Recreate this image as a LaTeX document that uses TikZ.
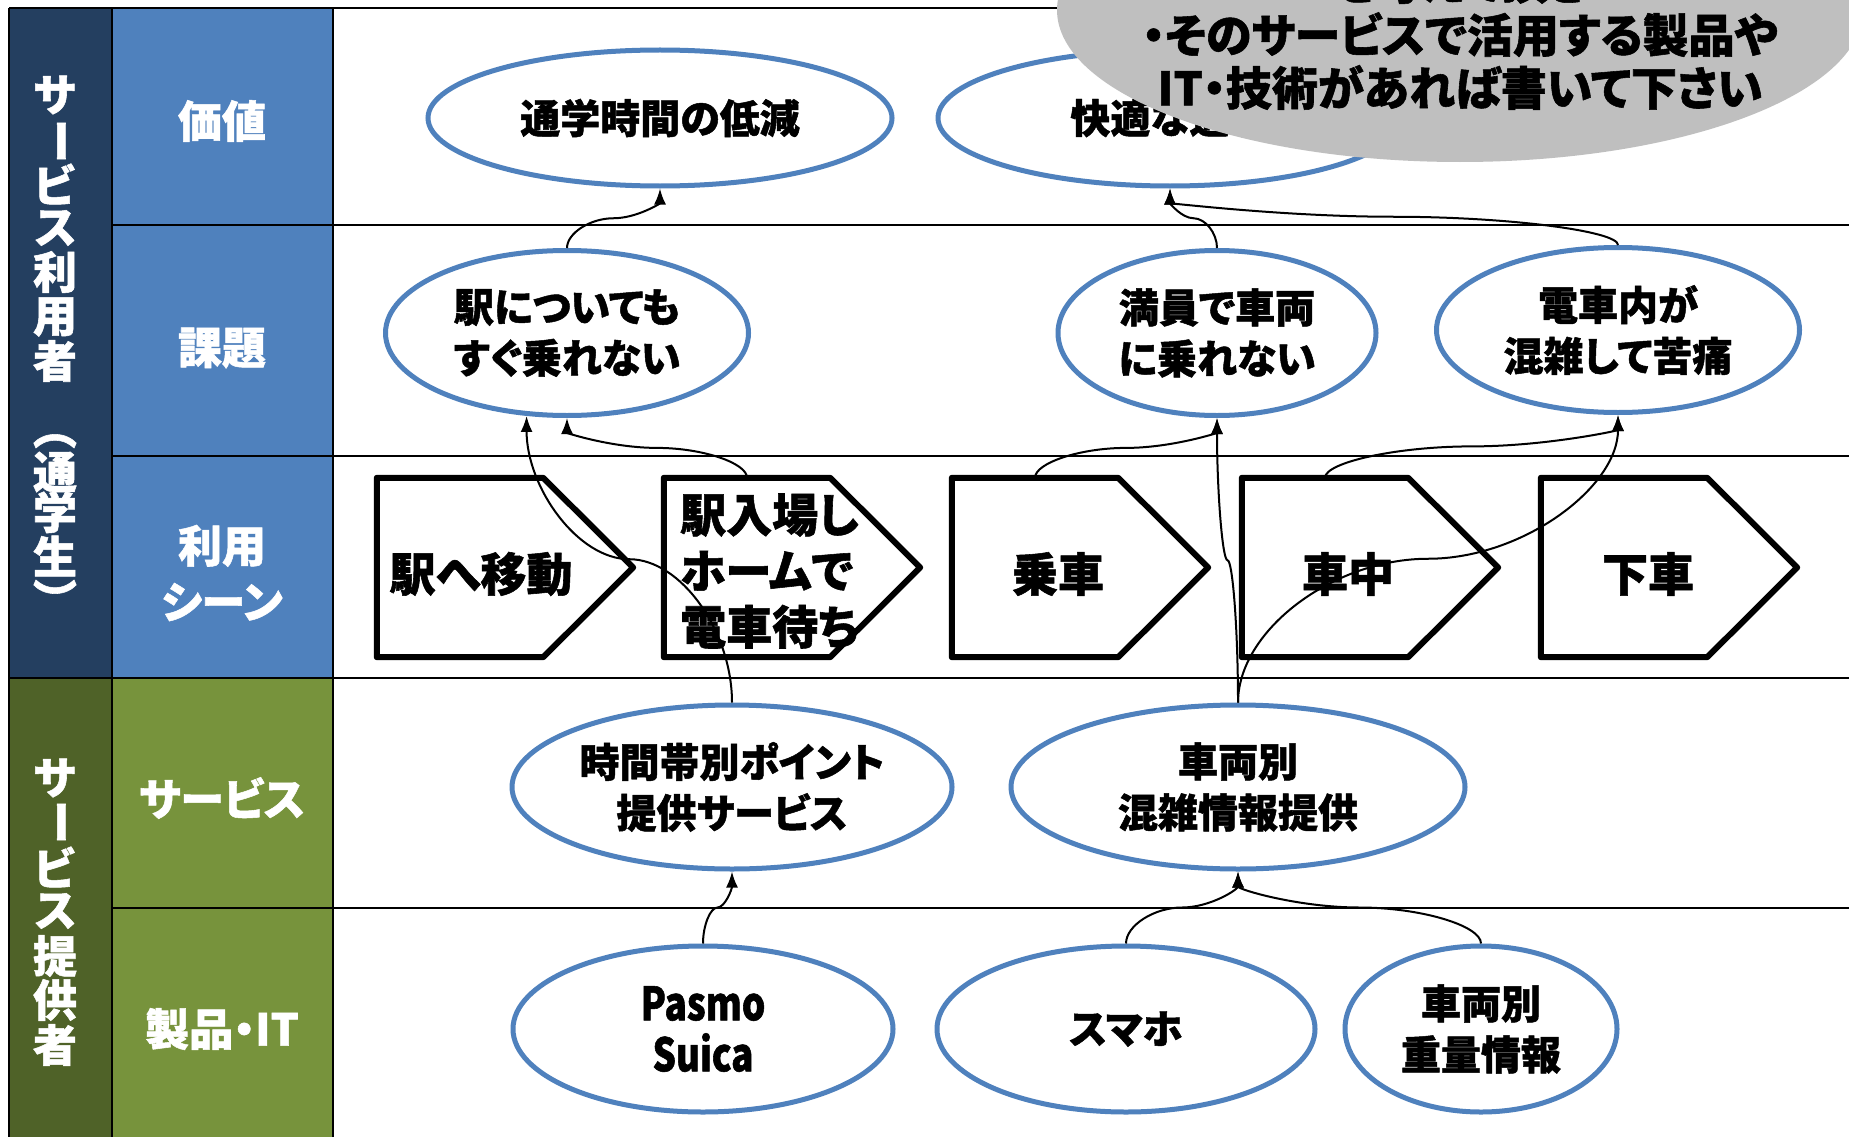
\documentclass[tikz,border=0pt]{standalone}
\usepackage{fontspec}
\setmainfont{Noto Sans CJK JP}[RawFeature=+palt, BoldFeatures={FakeBold=1.2}]
\newfontfamily\narrowfont{Noto Sans CJK JP}[FakeStretch=0.8, BoldFeatures={FakeBold=1.2}]
\newfontfamily\notefont{Noto Sans CJK JP}[RawFeature=+palt, BoldFeatures={FakeBold=1.2}]
\newfontfamily\vfont{Noto Sans CJK JP}[BoldFeatures={FakeBold=1.2}]
\usetikzlibrary{shapes.geometric,arrows.meta,calc}
\definecolor{navyc}{HTML}{243F60}
\definecolor{bluec}{HTML}{4F81BD}
\definecolor{dgreenc}{HTML}{4F6228}
\definecolor{greenc}{HTML}{77933C}
\definecolor{grayc}{HTML}{BFBFBF}
\tikzset{
  gridline/.style={line width=2.5pt, black},
  oval/.style={ellipse, draw=bluec, line width=5pt, fill=white, inner sep=0pt, align=center,
    font=\bfseries\fontsize{40}{51}\selectfont},
  pent/.style={line width=6pt, line join=round, fill=white},
  frame/.style={inner sep=0pt, minimum width=166pt, minimum height=179pt},
  scenetext/.style={font=\bfseries\fontsize{46}{56}\selectfont, inner sep=0pt, align=left},
  rowlabel/.style={text=white, font=\bfseries\fontsize{44}{56}\selectfont, align=center, inner sep=0pt},
  vchar/.style={text=white, font=\vfont\bfseries\fontsize{44}{44}\selectfont, inner sep=0pt},
  con/.style={line width=2pt, -{Latex[length=16pt,width=12pt]}},
}
\newcommand\curvecon[2]{%
  \coordinate (cm) at ($(#1)!0.5!(#2)$);
  \coordinate (c1) at ($(#1)!0.5!(cm)$);
  \coordinate (c2) at ($(cm)!0.5!(#2)$);
  \draw[con] (#1) .. controls (#1 |- c1) and (c1 |- cm) .. (cm) .. controls (c2 |- cm) and (#2 |- c2) .. (#2);}
\newcommand\pentagon[1]{%
  \draw[pent] (#1.north west) -- (#1.north east) -- ([xshift=90pt]#1.east) -- (#1.south east) -- (#1.south west) -- cycle;}
\begin{document}
\begin{tikzpicture}[x=1pt,y=-1pt]
\useasboundingbox (0,0) rectangle (1849,1137);
\clip (0,0) rectangle (1849,1137);
\fill[white] (0,0) rectangle (1849,1137);

% label columns
\fill[navyc] (9,8) rectangle (112,678);
\fill[dgreenc] (9,678) rectangle (112,1145);
\fill[bluec] (112,8) rectangle (333,678);
\fill[greenc] (112,678) rectangle (333,1145);

% grid
\draw[gridline] (9,8) -- (1849,8);
\draw[gridline] (112,225) -- (1849,225);
\draw[gridline] (112,456) -- (1849,456);
\draw[gridline] (9,678) -- (1849,678);
\draw[gridline] (112,908) -- (1849,908);
\draw[gridline] (9,8) -- (9,1145);
\draw[gridline] (112,8) -- (112,1145);
\draw[gridline] (333,8) -- (333,1145);

% row labels
\node[rowlabel] (l1) at (222,121) {価値};
\node[rowlabel] (l2) at (222,348) {課題};
\node[rowlabel] (l3) at (222,573) {利用\\シーン};
\node[rowlabel] (l4) at (222,798) {サービス};
\node[rowlabel] (l5) at (222,1029) {製品・IT};

% vertical labels
\node[vchar] (v1) at (55,95) {サ};
\node[vchar, rotate=-90] (v2) at (55,141) {ー};
\node[vchar] (v3) at (55,184) {ビ};
\node[vchar] (v4) at (55,228) {ス};
\node[vchar] (v5) at (55,272) {利};
\node[vchar] (v6) at (55,317) {用};
\node[vchar] (v7) at (55,361) {者};
\node[vchar, rotate=-90] (v8) at (55,428) {（};
\node[vchar] (v9) at (55,472) {通};
\node[vchar] (v10) at (55,512) {学};
\node[vchar] (v11) at (55,556) {生};
\node[vchar, rotate=-90] (v12) at (55,600) {）};
\node[vchar] (v13) at (55,778) {サ};
\node[vchar, rotate=-90] (v14) at (55,822) {ー};
\node[vchar] (v15) at (55,867) {ビ};
\node[vchar] (v16) at (55,911) {ス};
\node[vchar] (v17) at (55,956) {提};
\node[vchar] (v18) at (55,1000) {供};
\node[vchar] (v19) at (55,1045) {者};

% values
\node[oval, minimum width=464pt, minimum height=136pt] (e1) at (660,118) {通学時間の低減};
\node[oval, minimum width=464pt, minimum height=136pt] (e2) at (1170,118) {快適な通学};
% issues
\node[oval, minimum width=363pt, minimum height=165pt] (e3) at (567,333) {駅についても\\すぐ乗れない};
\node[oval, minimum width=318pt, minimum height=165pt] (e4) at (1217,333) {満員で車両\\に乗れない};
\node[oval, minimum width=363pt, minimum height=165pt] (e5) at (1618,330) {電車内が\\混雑して苦痛};
% services
\node[oval, minimum width=440pt, minimum height=164pt] (e6) at (732,787) {時間帯別ポイント\\提供サービス};
\node[oval, minimum width=454pt, minimum height=164pt] (e7) at (1238,787) {車両別\\混雑情報提供};
% products
\node[oval, minimum width=380pt, minimum height=166pt, font=\narrowfont\bfseries\fontsize{46}{51}\selectfont] (e8) at (703,1029) {Pasmo\\Suica};
\node[oval, minimum width=378pt, minimum height=166pt] (e9) at (1126,1029) {スマホ};
\node[oval, minimum width=272pt, minimum height=166pt] (e10) at (1481,1029) {車両別\\重量情報};

% scene arrows
\node[frame] (a1) at (460,567.5) {};
\node[frame] (a2) at (747,567.5) {};
\node[frame] (a3) at (1035,567.5) {};
\node[frame] (a4) at (1325,567.5) {};
\node[frame] (a5) at (1624,567.5) {};
\pentagon{a1}\pentagon{a2}\pentagon{a3}\pentagon{a4}\pentagon{a5}
\node[scenetext] (t1) at (481,574) {駅へ移動};
\node[scenetext, anchor=west] (t2) at (680,571) {駅入場し\\ホームで\\電車待ち};
\node[scenetext] (t3) at (1058,574) {乗車};
\node[scenetext] (t4) at (1348,574) {車中};
\node[scenetext] (t5) at (1648,574) {下車};

% connectors
\curvecon{e3.north}{e1.south}
\curvecon{e4.north}{e2.south}
\curvecon{e5.north}{e2.south}
\curvecon{a2.north}{e3.south}
\curvecon{e6.north}{e3.244}
\curvecon{a3.north}{e4.south}
\curvecon{e7.north}{e4.south}
\curvecon{a4.north}{e5.south}
\curvecon{e7.north}{e5.south}
\curvecon{e8.north}{e6.south}
\curvecon{e9.north}{e7.south}
\curvecon{e10.north}{e7.south}

% callout
\node[ellipse, fill=grayc, minimum width=806pt, minimum height=304pt, inner sep=0pt] (note) at (1460,10) {};
\node[font=\notefont\bfseries\fontsize{46}{53}\selectfont, align=center, inner sep=0pt] (notetext) at (1460,35) {を考えて頂き\\・そのサービスで活用する製品や\\IT・技術があれば書いて下さい};
\end{tikzpicture}
\end{document}
